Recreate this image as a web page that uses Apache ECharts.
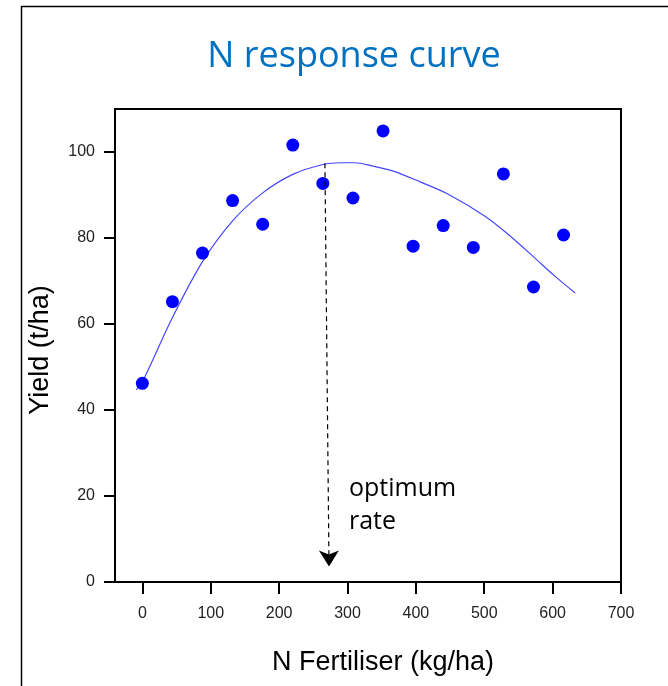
<!DOCTYPE html>
<html>
<head>
<meta charset="utf-8">
<script src="https://cdn.jsdelivr.net/npm/echarts@6/dist/echarts.min.js"></script>
<style>
  html, body { margin: 0; padding: 0; background: #fff; }
  #chart { width: 668px; height: 686px; }
</style>
</head>
<body>
<div id="chart"></div>
<script>
// N rate applied (kg/ha) and measured yield (t/ha)
const nRates = [0, 44, 88, 132, 176, 220, 264, 308, 352, 396, 440, 484, 528, 572, 616];
const yields = [46.2, 65.2, 76.5, 88.7, 83.2, 101.6, 92.7, 89.3, 104.9, 78.1, 82.9, 77.8, 94.9, 68.6, 80.7];

// fitted response curve
const curveX = [-9, 0, 44, 88, 132, 176, 220, 264, 290, 311, 333, 368, 407, 446, 500, 534, 573, 602, 633];
const curveY = [44.7, 46.5, 61.5, 74.5, 84, 90.5, 94.8, 97.1, 97.5, 97.5, 96.9, 95.5, 93.0, 90.3, 85.2, 81.0, 75.5, 71.3, 67.2];

// dashed arrow from the curve peak down to the optimum rate
const optimumFrom = [267, 97.4];
const optimumTo = [273, 3.6];

const xTicks = [0, 100, 200, 300, 400, 500, 600, 700];
const yTicks = [0, 20, 40, 60, 80, 100];

const chart = echarts.init(document.getElementById('chart'));

const tickFont = {
  fontFamily: '"Liberation Sans", Arial, sans-serif',
  fontSize: 16,
  color: '#222',
};

chart.setOption({
  animation: false,
  grid: {
    show: true,
    left: 115,
    top: 109,
    right: 47,
    bottom: 104,
    borderColor: '#000',
    borderWidth: 2,
    backgroundColor: 'transparent',
  },
  xAxis: {
    type: 'value',
    min: -40,
    max: 700,
    axisLine: { onZero: false, lineStyle: { color: '#000', width: 2 } },
    axisTick: { show: true, length: 12, lineStyle: { color: '#000', width: 2 }, customValues: xTicks },
    axisLabel: { ...tickFont, margin: 24, customValues: xTicks },
    splitLine: { show: false },
  },
  yAxis: {
    type: 'value',
    min: 0,
    max: 110,
    axisLine: { show: true, onZero: false, lineStyle: { color: '#000', width: 2 } },
    axisTick: { show: true, length: 11, lineStyle: { color: '#000', width: 2 }, customValues: yTicks },
    axisLabel: { ...tickFont, margin: 20, customValues: yTicks },
    splitLine: { show: false },
  },
  series: [
    {
      type: 'line',
      data: curveX.map((x, i) => [x, curveY[i]]),
      showSymbol: false,
      smooth: 0.3,
      lineStyle: { color: '#4646ff', width: 1.2 },
      z: 2,
    },
    {
      type: 'scatter',
      data: nRates.map((x, i) => [x, yields[i]]),
      symbol: 'circle',
      symbolSize: 13,
      itemStyle: { color: '#0000ff', opacity: 1 },
      z: 3,
      markLine: {
        silent: true,
        symbol: ['none', 'arrow'],
        symbolSize: [15, 16],
        label: { show: false },
        lineStyle: { color: '#000', type: [5, 4], width: 1.2 },
        data: [[{ coord: optimumFrom }, { coord: optimumTo }]],
      },
    },
  ],
  graphic: [
    {
      type: 'rect',
      shape: { x: 21.5, y: 6.5, width: 700, height: 700 },
      style: { fill: 'none', stroke: '#000', lineWidth: 1.5 },
      silent: true,
    },
    {
      type: 'text',
      x: 354,
      y: 57,
      style: {
        text: 'N response curve',
        fontFamily: '"Open Sans", sans-serif',
        fontSize: 36,
        fill: '#0070c0',
        align: 'center',
        verticalAlign: 'middle',
      },
    },
    {
      type: 'text',
      x: 349,
      y: 472,
      style: {
        text: 'optimum\nrate',
        fontFamily: '"Open Sans", sans-serif',
        fontSize: 25,
        lineHeight: 33,
        fill: '#000',
        align: 'left',
        verticalAlign: 'top',
      },
    },
    {
      type: 'text',
      x: 383,
      y: 663,
      style: {
        text: 'N Fertiliser (kg/ha)',
        fontFamily: '"Liberation Sans", Arial, sans-serif',
        fontSize: 27,
        fill: '#000',
        align: 'center',
        verticalAlign: 'middle',
      },
    },
    {
      type: 'text',
      x: 41,
      y: 350,
      rotation: Math.PI / 2,
      style: {
        text: 'Yield (t/ha)',
        fontFamily: '"Liberation Sans", Arial, sans-serif',
        fontSize: 27,
        fill: '#000',
        align: 'center',
        verticalAlign: 'middle',
      },
    },
  ],
});

window.addEventListener('resize', () => {
  chart.resize();
});
</script>
</body>
</html>
